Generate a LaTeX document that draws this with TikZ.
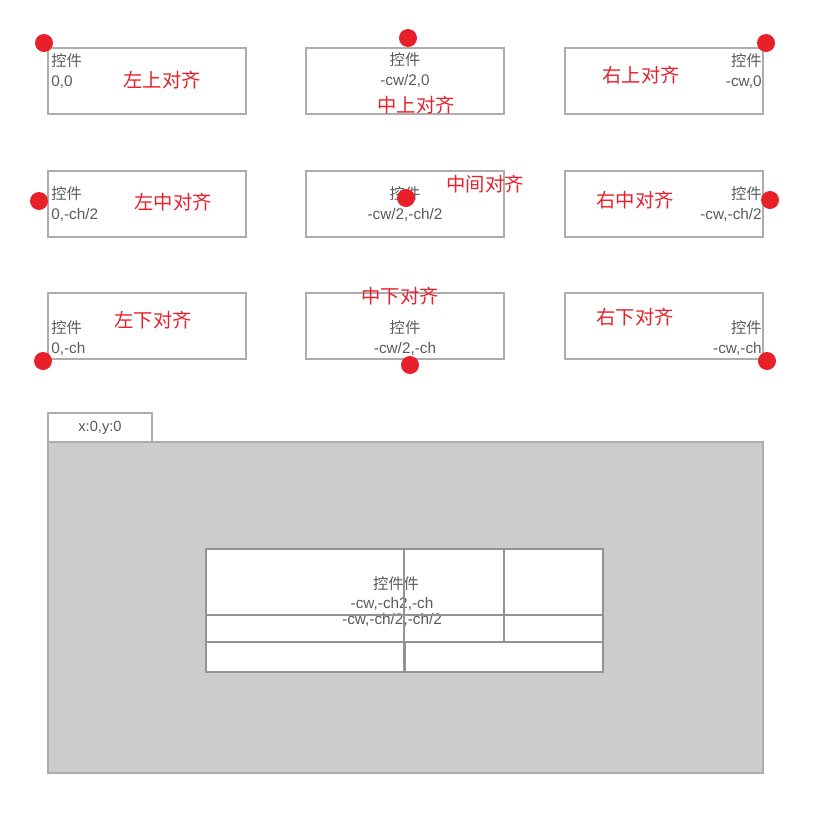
\documentclass[tikz,border=0pt]{standalone}
\usepackage{fontspec}
\setmainfont{Liberation Sans}
\newfontfamily\cjk{Noto Sans CJK SC}
\definecolor{dotred}{HTML}{E8202A}
\definecolor{ctlgray}{HTML}{ADADAD}
\definecolor{txtgray}{HTML}{5A5A5A}
\definecolor{panegray}{HTML}{CCCCCC}
\tikzset{ctlbox/.style={draw=ctlgray,line width=1.1pt,minimum width=148.5pt,minimum height=49.5pt,inner sep=0pt},
         reddot/.style={circle,fill=dotred,inner sep=0pt,minimum size=13.5pt},
         ctltxt/.style={text=txtgray,font=\fontsize{11.5}{15}\selectfont,inner sep=0pt},
         redlab/.style={text=dotred,font=\cjk\fontsize{14.5}{16}\selectfont,inner sep=0pt},
         paneline/.style={draw=ctlgray!85!black,line width=1.1pt}}

\begin{document}
\begin{tikzpicture}[x=0.75pt,y=-0.75pt]
  \useasboundingbox (0,0) rectangle (824,829);
  % nine aligned controls
  \foreach \r/\y in {1/81,2/204,3/326}
    \foreach \c/\x in {1/147,2/405,3/664}
      {\node[ctlbox] (b\r\c) at (\x,\y) {};}
  \node[ctltxt,align=left,anchor=west] (t11) at (51,71) {{\cjk 控件}\\0,0};
  \node[ctltxt,align=center] (t12) at (405,70) {{\cjk 控件}\\-cw/2,0};
  \node[ctltxt,align=right,anchor=east] (t13) at (762,71) {{\cjk 控件}\\-cw,0};
  \node[ctltxt,align=left,anchor=west] (t21) at (51,204) {{\cjk 控件}\\0,-ch/2};
  \node[ctltxt,align=center] (t22) at (405,204) {{\cjk 控件}\\-cw/2,-ch/2};
  \node[ctltxt,align=right,anchor=east] (t23) at (762,204) {{\cjk 控件}\\-cw,-ch/2};
  \node[ctltxt,align=left,anchor=west] (t31) at (51,338) {{\cjk 控件}\\0,-ch};
  \node[ctltxt,align=center] (t32) at (405,338) {{\cjk 控件}\\-cw/2,-ch};
  \node[ctltxt,align=right,anchor=east] (t33) at (762,338) {{\cjk 控件}\\-cw,-ch};
  % red labels
  \foreach \n/\x/\y/\l in {l11/162/80/左上对齐,l12/416/105/中上对齐,l13/641/75/右上对齐,
      l21/173/202/左中对齐,l22/485/184/中间对齐,l23/635/200/右中对齐,
      l31/153/320/左下对齐,l32/400/296/中下对齐,l33/635/317/右下对齐}
    {\node[redlab] (\n) at (\x,\y) {\l};}
  % anchor dots
  \foreach \n/\x/\y in {d11/44/43,d12/408/38,d13/766/43,d21/39/201,d22/406/198,d23/770/200,
      d31/43/361,d32/410/365,d33/767/361}
    {\node[reddot] (\n) at (\x,\y) {};}
  % parent pane
  \node[ctlbox,fill=panegray,minimum width=536.25pt,minimum height=248.25pt] (pane) at (405.5,607.5) {};
  \node[ctlbox,fill=white,minimum width=78pt,minimum height=21.75pt] (tab) at (100,427.5) {};
  \node[ctltxt,font=\fontsize{11}{13}\selectfont] (tabtxt) at (tab) {x:0,y:0};
  \node[paneline,fill=white,minimum width=297.75pt,minimum height=92.25pt,inner sep=0pt] (inner) at (404.5,610.5) {};
  \node[ctltxt] (i1) at (396,584) {\cjk 控件件};
  \node[ctltxt] (i2) at (392,604) {-cw,-ch2,-ch};
  \node[ctltxt] (i3) at (392,620) {-cw,-ch/2,-ch/2};
  \draw[paneline] (206,615) -- (603,615);
  \draw[paneline] (206,642) -- (603,642);
  \draw[paneline] (404,549) -- (404,672);
  \draw[paneline,line width=1.6pt] (405,642) -- (405,672);
  \draw[paneline] (504,549) -- (504,642);
\end{tikzpicture}
\end{document}
